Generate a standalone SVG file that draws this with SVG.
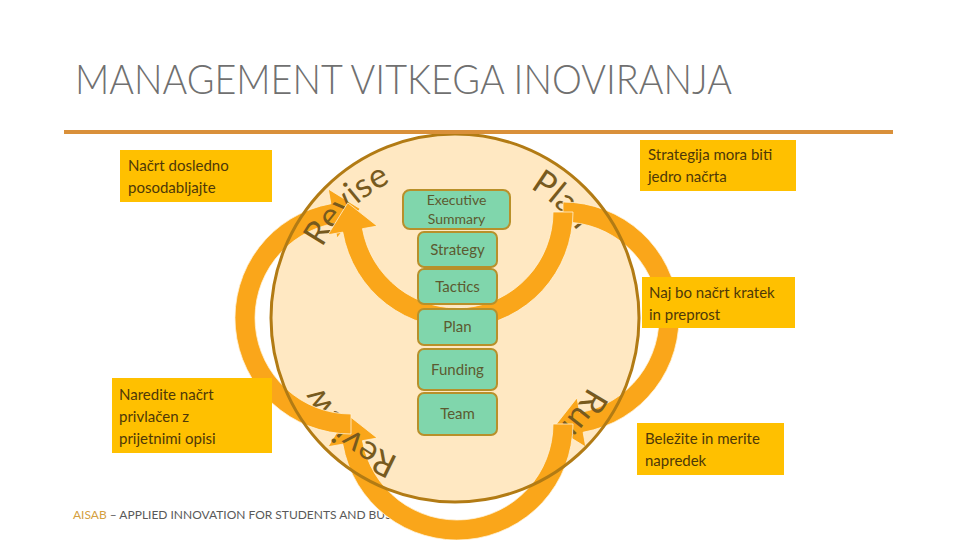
<svg xmlns="http://www.w3.org/2000/svg" xmlns:xlink="http://www.w3.org/1999/xlink" width="960" height="540" viewBox="0 0 960 540">
  <style>
    .title { font-family: Lato, "Liberation Sans", sans-serif; font-weight: 300; font-size: 42px; fill: #707070; }
    .foot { font-family: Lato, "Liberation Sans", sans-serif; font-size: 11px; fill: #595959; }
    .box { fill: #80D6AC; stroke: #B8902A; stroke-width: 2; }
    .boxtxt { font-family: Lato, "Liberation Sans", sans-serif; font-size: 15px; fill: #5C5A30; text-anchor: middle; }
    .call { fill: #FFC000; }
    .calltxt { font-family: Lato, "Liberation Sans", sans-serif; font-size: 15px; fill: #4E3808; }
    .arrow { fill: #FAA61A; stroke: #FFF1D6; stroke-width: 0.8; }
    .cyc { font-family: Lato, "Liberation Sans", sans-serif; font-size: 34px; fill: #775A1E; }
  </style>
  <defs>
    <path id="ring" d="M 605 318 A 150 150 0 1 1 305 318 A 150 150 0 1 1 605 318"/>
  </defs>

  <rect width="960" height="540" fill="#FFFFFF"/>

  <g id="title">
    <text class="title" x="75" y="94" textLength="657" lengthAdjust="spacingAndGlyphs">MANAGEMENT VITKEGA INOVIRANJA</text>
  </g>

  <g id="footer">
    <text class="foot" x="73" y="519" textLength="322" lengthAdjust="spacingAndGlyphs"><tspan fill="#D4A040">AISAB</tspan> – APPLIED  INNOVATION FOR STUDENTS AND BUSI</text>
  </g>

  <g id="main-circle-fill">
    <circle cx="455" cy="318" r="184" fill="#FFE8C2"/>
  </g>

  <g id="connectors">
    <text class="cyc"><textPath xlink:href="#ring" href="#ring" startOffset="785">Plan</textPath></text>
    <path class="arrow" d="M563,202 A116,116 0 0 1 583.14,432.24 L585.75,447.01 L553.84,427.25 L577.07,397.77 L579.67,412.54 A96,96 0 0 0 563,222 Z"/>
    <text class="cyc"><textPath xlink:href="#ring" href="#ring" startOffset="71">Run</textPath></text>
    <path class="arrow" d="M573,424 A116,116 0 0 1 342.76,444.14 L327.99,446.75 L347.75,414.84 L377.23,438.07 L362.46,440.67 A96,96 0 0 0 553,424 Z"/>
    <text class="cyc"><textPath xlink:href="#ring" href="#ring" startOffset="293">Review</textPath></text>
    <path class="arrow" d="M351,434 A116,116 0 0 1 330.86,203.76 L328.25,188.99 L360.16,208.75 L336.93,238.23 L334.33,223.46 A96,96 0 0 0 351,414 Z"/>
    <text class="cyc"><textPath xlink:href="#ring" href="#ring" startOffset="544">Revise</textPath></text>
    <path class="arrow" d="M573,212 A116,116 0 0 1 342.76,232.14 L327.99,234.75 L347.75,202.84 L377.23,226.07 L362.46,228.67 A96,96 0 0 0 553,212 Z"/>
  </g>

  <g id="main-circle-outline">
    <circle cx="455" cy="318" r="184" fill="none" stroke="#B27B14" stroke-width="3"/>
  </g>

  <g id="rule">
    <line x1="64" y1="132" x2="893" y2="132" stroke="#D9903A" stroke-width="4"/>
  </g>

  <g id="node-executive-summary">
    <rect class="box" x="403" y="190" width="107" height="39" rx="7"/>
    <text class="boxtxt" x="456.5" y="205" style="font-size:14px">Executive</text>
    <text class="boxtxt" x="456.5" y="224" style="font-size:14px">Summary</text>
  </g>
  <g id="node-strategy">
    <rect class="box" x="418" y="232" width="79" height="35" rx="6"/>
    <text class="boxtxt" x="457.5" y="255">Strategy</text>
  </g>
  <g id="node-tactics">
    <rect class="box" x="418" y="269" width="79" height="35" rx="6"/>
    <text class="boxtxt" x="457.5" y="292">Tactics</text>
  </g>
  <g id="node-plan">
    <rect class="box" x="418" y="309" width="79" height="36" rx="6"/>
    <text class="boxtxt" x="457.5" y="332">Plan</text>
  </g>
  <g id="node-funding">
    <rect class="box" x="418" y="349" width="79" height="41" rx="6"/>
    <text class="boxtxt" x="457.5" y="375">Funding</text>
  </g>
  <g id="node-team">
    <rect class="box" x="418" y="393" width="79" height="42" rx="6"/>
    <text class="boxtxt" x="457.5" y="419">Team</text>
  </g>

  <g id="callout-revise">
    <rect class="call" x="120" y="150" width="152" height="52"/>
    <text class="calltxt" x="128" y="171">Načrt dosledno</text>
    <text class="calltxt" x="128" y="193">posodabljajte</text>
  </g>
  <g id="callout-review">
    <rect class="call" x="112" y="378" width="160" height="75"/>
    <text class="calltxt" x="119" y="400">Naredite načrt</text>
    <text class="calltxt" x="119" y="422">privlačen z</text>
    <text class="calltxt" x="119" y="444">prijetnimi opisi</text>
  </g>
  <g id="callout-strategy">
    <rect class="call" x="640" y="140" width="156" height="51"/>
    <text class="calltxt" x="648" y="160">Strategija mora biti</text>
    <text class="calltxt" x="648" y="182">jedro načrta</text>
  </g>
  <g id="callout-plan">
    <rect class="call" x="642" y="277" width="153" height="51"/>
    <text class="calltxt" x="649" y="298">Naj bo načrt kratek</text>
    <text class="calltxt" x="649" y="320">in preprost</text>
  </g>
  <g id="callout-run">
    <rect class="call" x="637" y="423" width="147" height="52"/>
    <text class="calltxt" x="645" y="444">Beležite in merite</text>
    <text class="calltxt" x="645" y="466">napredek</text>
  </g>
</svg>
